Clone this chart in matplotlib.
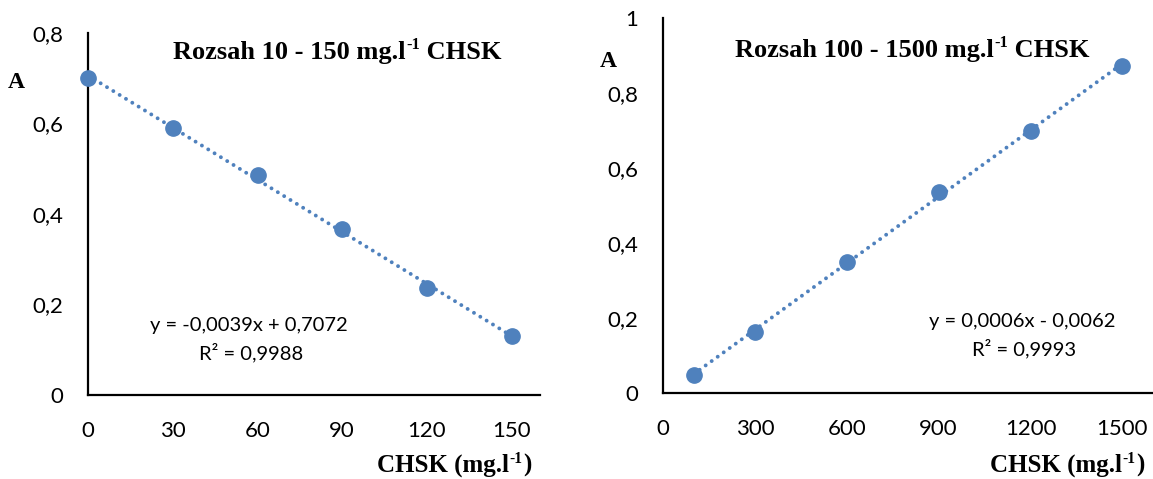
import numpy as np
import matplotlib
matplotlib.use("Agg")
import matplotlib.pyplot as plt

# Kalibrace CHSK - dva rozsahy
x_low = [0, 30, 60, 90, 120, 150]
a_low = [0.700, 0.590, 0.486, 0.367, 0.236, 0.130]
x_high = [100, 300, 600, 900, 1200, 1500]
a_high = [0.048, 0.163, 0.349, 0.536, 0.699, 0.872]

xticks_low = [0, 30, 60, 90, 120, 150]
yticks_low = [0, 0.2, 0.4, 0.6, 0.8]
xticks_high = [0, 300, 600, 900, 1200, 1500]
yticks_high = [0, 0.2, 0.4, 0.6, 0.8, 1.0]

eq_low = ["y = -0,0039x + 0,7072", "R² = 0,9988"]
eq_high = ["y = 0,0006x - 0,0062", "R² = 0,9993"]

blue = "#4f81bd"
sans = "Lato"
serif = "Liberation Serif"
W, H = 1153, 479


def fmt(v):
    return f"{v:g}".replace(".", ",")


def panel(ax, xs, ys, xticks, yticks, xlim, ylim, eq, eq_xy):
    fit = np.polyfit(xs, ys, 1)
    xl = np.array([min(xs), max(xs)])
    ax.plot(xl, np.polyval(fit, xl), ls=(0, (0.01, 1.9)), color=blue, lw=2.8,
            dash_capstyle="round", zorder=2)
    ax.plot(xs, ys, "o", color=blue, ms=11, zorder=3, clip_on=False)
    ax.set_xlim(*xlim)
    ax.set_ylim(*ylim)
    ax.set_xticks(xticks)
    ax.set_yticks(yticks)
    ax.set_xticklabels([fmt(v) for v in xticks])
    ax.set_yticklabels([fmt(v) for v in yticks])
    for sp in ("top", "right"):
        ax.spines[sp].set_visible(False)
    for sp in ("left", "bottom"):
        ax.spines[sp].set_linewidth(1.6)
    ax.tick_params(length=0, labelsize=16)
    ax.tick_params(axis="y", pad=18)
    ax.tick_params(axis="x", pad=19)
    for lab in ax.get_xticklabels() + ax.get_yticklabels():
        lab.set_fontfamily(sans)
    # rovnice regrese (stred prvniho a druheho radku v pixelech)
    for line, (px, py) in zip(eq, eq_xy):
        fig.text(px / W, 1 - py / H, line, ha="center", va="center",
                 fontfamily=sans, fontsize=14.5)


def sup_label(ax, px, py, main, tail, size):
    # text s hornim indexem -1 (baseline v pixelech py)
    kw = dict(fontfamily=serif, fontweight="bold")
    t1 = fig.text(px / W, 1 - py / H, main, ha="left", va="baseline",
                  fontsize=size, **kw)
    t2 = ax.annotate("-1", xy=(1, 0), xycoords=t1, xytext=(0.5, size * 0.42),
                     textcoords="offset points", ha="left", va="bottom",
                     fontsize=size * 0.62, annotation_clip=False, **kw)
    ax.annotate(tail, xy=(1, 0), xycoords=(t2, t1), ha="left", va="bottom",
                fontsize=size, annotation_clip=False, **kw)


fig = plt.figure(figsize=(W / 100, H / 100), dpi=100)
ax1 = fig.add_axes([88 / W, 1 - 395 / H, 452 / W, 362 / H])
ax2 = fig.add_axes([663 / W, 1 - 393 / H, 490 / W, 375 / H])

panel(ax1, x_low, a_low, xticks_low, yticks_low, (0, 160), (0, 0.8),
      eq_low, [(249, 326), (251, 353)])
panel(ax2, x_high, a_high, xticks_high, yticks_high, (0, 1600), (0, 1.0),
      eq_high, [(1022, 322), (1024, 349)])

sup_label(ax1, 173, 59, "Rozsah 10 - 150 mg.l", " CHSK", 19)
sup_label(ax2, 735, 57, "Rozsah 100 - 1500 mg.l", " CHSK", 19)
sup_label(ax1, 377, 472, "CHSK (mg.l", ")", 18)
sup_label(ax2, 990, 472, "CHSK (mg.l", ")", 18)

fig.text(8 / W, 1 - 88 / H, "A", fontfamily=serif, fontweight="bold",
         fontsize=17, ha="left", va="baseline")
fig.text(600 / W, 1 - 67 / H, "A", fontfamily=serif, fontweight="bold",
         fontsize=17, ha="left", va="baseline")

fig.savefig("out.png", dpi=100)
